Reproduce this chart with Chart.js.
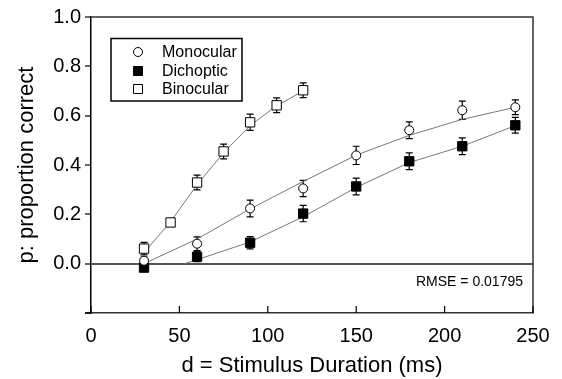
<!DOCTYPE html>
<html>
<head>
<meta charset="utf-8">
<script src="https://cdn.jsdelivr.net/npm/chart.js@4"></script>
<style>
  html, body { margin: 0; padding: 0; background: #fff; }
</style>
</head>
<body>
<canvas id="chart" width="562" height="379"></canvas>
<script>
// Stimulus durations (ms)
const monoX = [30, 60, 90, 120, 150, 180, 210, 240];
const dichX = [30, 60, 90, 120, 150, 180, 210, 240];
const binoX = [30, 45, 60, 75, 90, 105, 120];

// Proportion correct
const monoY = [0.012, 0.081, 0.224, 0.305, 0.439, 0.541, 0.622, 0.634];
const dichY = [-0.016, 0.028, 0.085, 0.203, 0.313, 0.415, 0.476, 0.561];
const binoY = [0.061, 0.167, 0.329, 0.455, 0.573, 0.642, 0.703];

// Error bar half-heights
const monoErr = [0.015, 0.028, 0.034, 0.033, 0.037, 0.034, 0.037, 0.03];
const dichErr = [0.012, 0.02, 0.025, 0.033, 0.034, 0.034, 0.034, 0.032];
const binoErr = [0.025, 0.015, 0.03, 0.03, 0.033, 0.03, 0.03];

// Model fit curves
const monoFitX = [30, 60, 90, 120, 150, 180, 210, 240];
const monoFitY = [0, 0.1, 0.222, 0.333, 0.44, 0.52, 0.585, 0.634];
const dichFitX = [53, 60, 90, 120, 150, 180, 210, 240];
const dichFitY = [0, 0.016, 0.088, 0.19, 0.309, 0.41, 0.476, 0.56];
const binoFitX = [30, 45, 60, 75, 90, 105, 120];
const binoFitY = [0.045, 0.17, 0.32, 0.45, 0.56, 0.64, 0.7];

const xTicks = [0, 50, 100, 150, 200, 250];
const yTicks = [-0.2, 0, 0.2, 0.4, 0.6, 0.8, 1.0];

const seriesLabels = ["Monocular", "Dichoptic", "Binocular"];
const xTitle = "d = Stimulus Duration (ms)";
const yTitle = "p: proportion correct";
const rmseLabel = "RMSE = 0.01795";

const FONT = '"Liberation Sans", Arial, Helvetica, sans-serif';

const pts = (xs, ys) => xs.map((x, i) => ({ x: x, y: ys[i] }));

function fitLine(xs, ys) {
  return {
    data: pts(xs, ys),
    showLine: true,
    borderColor: '#777',
    borderWidth: 1,
    pointRadius: 0,
    pointHoverRadius: 0,
    fill: false
  };
}

// error bars go under everything else
const errorBars = {
  id: 'errorBars',
  beforeDatasetsDraw(chart) {
    const { ctx, scales: { x, y } } = chart;
    ctx.save();
    ctx.strokeStyle = '#000';
    ctx.lineWidth = 1.2;
    chart.data.datasets.forEach(ds => {
      if (!ds.errors) return;
      ds.data.forEach((pt, i) => {
        const px = x.getPixelForValue(pt.x);
        const top = y.getPixelForValue(pt.y + ds.errors[i]);
        const bot = y.getPixelForValue(pt.y - ds.errors[i]);
        ctx.beginPath();
        ctx.moveTo(px, top); ctx.lineTo(px, bot);
        ctx.moveTo(px - 3.5, top); ctx.lineTo(px + 3.5, top);
        ctx.moveTo(px - 3.5, bot); ctx.lineTo(px + 3.5, bot);
        ctx.stroke();
      });
    });
    ctx.restore();
  }
};

// top/right frame, inward x ticks, legend box and RMSE note
const frame = {
  id: 'frame',
  afterDraw(chart) {
    const { ctx, chartArea: a, scales: { x } } = chart;
    ctx.save();
    ctx.strokeStyle = '#333';
    ctx.lineWidth = 1.5;
    ctx.beginPath();
    ctx.moveTo(a.left, a.top); ctx.lineTo(a.right, a.top); ctx.lineTo(a.right, a.bottom);
    ctx.stroke();

    ctx.strokeStyle = '#000';
    ctx.lineWidth = 1.2;
    x.ticks.forEach(t => {
      const px = x.getPixelForValue(t.value);
      ctx.beginPath();
      ctx.moveTo(px, a.bottom); ctx.lineTo(px, a.bottom - 7);
      ctx.stroke();
    });
    // axis stub left of the origin
    ctx.lineWidth = 1.5;
    ctx.beginPath();
    ctx.moveTo(a.left - 6, a.bottom); ctx.lineTo(a.left, a.bottom);
    ctx.stroke();

    // legend
    ctx.lineWidth = 1.5;
    ctx.strokeRect(111, 38.5, 131, 62.5);
    ctx.font = '16px ' + FONT;
    ctx.textBaseline = 'middle';
    ctx.fillStyle = '#000';
    const rows = [52, 71, 89];
    chart.data.datasets.slice(0, 3).forEach((ds, i) => {
      const cy = rows[i];
      ctx.lineWidth = 1;
      ctx.fillStyle = ds.pointBackgroundColor;
      ctx.strokeStyle = '#000';
      ctx.beginPath();
      if (ds.pointStyle === 'circle') {
        ctx.arc(138, cy, 4.5, 0, Math.PI * 2);
      } else {
        ctx.rect(133.5, cy - 4.5, 9, 9);
      }
      ctx.fill();
      ctx.stroke();
      ctx.fillStyle = '#000';
      ctx.fillText(ds.label, 162, cy + 1);
    });

    ctx.font = '14px ' + FONT;
    ctx.textAlign = 'right';
    ctx.fillText(rmseLabel, 523, 282);
    ctx.restore();
  }
};

new Chart(document.getElementById('chart'), {
  type: 'scatter',
  data: {
    datasets: [
      {
        label: seriesLabels[0], data: pts(monoX, monoY), errors: monoErr,
        pointStyle: 'circle', pointRadius: 4.5, pointBorderWidth: 1,
        pointBackgroundColor: '#fff', pointBorderColor: '#000'
      },
      {
        label: seriesLabels[1], data: pts(dichX, dichY), errors: dichErr,
        pointStyle: 'rect', pointRadius: 6.6, pointBorderWidth: 1,
        pointBackgroundColor: '#000', pointBorderColor: '#000'
      },
      {
        label: seriesLabels[2], data: pts(binoX, binoY), errors: binoErr,
        pointStyle: 'rect', pointRadius: 6.6, pointBorderWidth: 1,
        pointBackgroundColor: '#fff', pointBorderColor: '#000'
      },
      fitLine(monoFitX, monoFitY),
      fitLine(dichFitX, dichFitY),
      fitLine(binoFitX, binoFitY)
    ]
  },
  options: {
    responsive: false,
    animation: false,
    layout: { padding: { top: 17, right: 29, left: 0, bottom: 0 } },
    plugins: { legend: { display: false }, tooltip: { enabled: false } },
    scales: {
      x: {
        type: 'linear',
        min: 0, max: 250,
        afterFit: s => { s.height = 66; },
        afterBuildTicks: s => { s.ticks = xTicks.map(v => ({ value: v })); },
        grid: { display: false, drawTicks: false },
        border: { display: true, color: '#333', width: 1.5 },
        ticks: { color: '#000', padding: 11, font: { family: FONT, size: 20 } },
        title: {
          display: true, text: xTitle, color: '#000',
          font: { family: FONT, size: 22 }, padding: { top: 0, bottom: 0 }
        }
      },
      y: {
        type: 'linear',
        min: -0.2, max: 1.0,
        afterFit: s => { s.width = 91; },
        afterBuildTicks: s => { s.ticks = yTicks.map(v => ({ value: v })); },
        grid: {
          drawOnChartArea: true,
          color: c => (c.tick && Math.abs(c.tick.value) < 1e-9) ? '#555' : 'rgba(0,0,0,0)',
          lineWidth: 2,
          drawTicks: true,
          tickLength: 6,
          tickColor: '#000',
          tickWidth: 1.2
        },
        border: { display: true, color: '#000', width: 1.5 },
        ticks: {
          color: '#000', padding: 4, font: { family: FONT, size: 20 },
          callback: v => v < -0.1 ? '' : v.toFixed(1)
        },
        title: {
          display: true, text: yTitle, color: '#000',
          font: { family: FONT, size: 22 }, padding: { top: 14, bottom: 0 }
        }
      }
    }
  },
  plugins: [errorBars, frame]
});
</script>
</body>
</html>
